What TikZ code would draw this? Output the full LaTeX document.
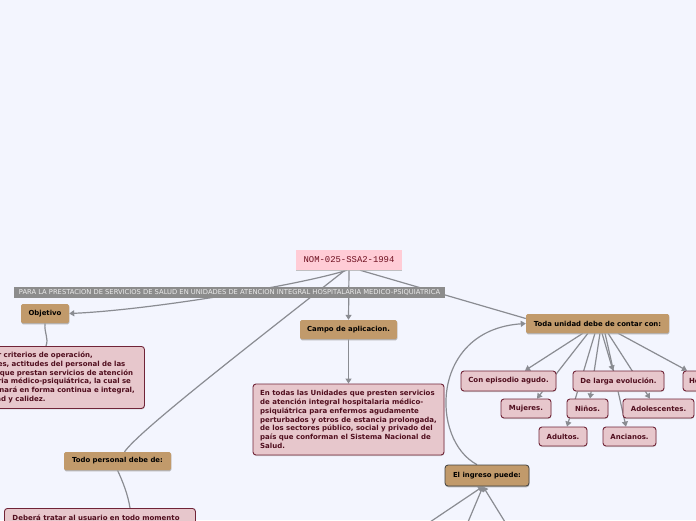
\documentclass[tikz,border=0pt]{standalone}
\usepackage{fontspec}
\setmainfont{DejaVu Sans}
\newfontfamily\monof{Liberation Mono}
\usetikzlibrary{arrows.meta,shadows}
\definecolor{bgc}{RGB}{243,245,254}
\definecolor{tanc}{RGB}{193,154,107}
\definecolor{pinkc}{RGB}{231,199,204}
\definecolor{pinkb}{RGB}{112,36,56}
\definecolor{pinkt}{RGB}{80,14,30}
\definecolor{nomc}{RGB}{255,204,214}
\definecolor{nomt}{RGB}{110,16,32}
\definecolor{bannerc}{RGB}{140,140,140}
\definecolor{linec}{RGB}{138,140,146}
\pgfdeclarelayer{bglayer}
\pgfdeclarelayer{background}
\pgfsetlayers{bglayer,background,main}
\tikzset{
  tanbox/.style={fill=tanc, rounded corners=1.5pt, inner sep=0pt, minimum height=19pt,
    font=\fontsize{6.9}{8}\selectfont\bfseries, text=black,
    drop shadow={shadow xshift=0.4pt, shadow yshift=-1.3pt, fill=black!35, opacity=0.8}},
  pinkbox/.style={fill=pinkc, draw=pinkb, line width=0.9pt, rounded corners=3pt, inner sep=0pt,
    minimum height=19pt, font=\fontsize{7}{8.75}\selectfont\bfseries, text=pinkt,
    drop shadow={shadow xshift=0.4pt, shadow yshift=-1pt, fill=black!25, opacity=0.7}},
  conn/.style={draw=linec, line width=1.2pt},
  arr/.style={conn, -{Triangle[width=6pt,length=5pt]}},
}
\begin{document}
\begin{tikzpicture}[x=1pt,y=-1pt]
\begin{pgfonlayer}{bglayer}
\fill[bgc] (0,0) rectangle (696,520);
\end{pgfonlayer}
\useasboundingbox (0,0) rectangle (696,520);

% main nodes
\node[fill=nomc, inner sep=0pt, minimum width=106pt, minimum height=20pt, text=nomt,
  font=\monof\fontsize{8.9}{10}\selectfont,
  drop shadow={shadow xshift=0.4pt, shadow yshift=-1.3pt, fill=black!30, opacity=0.8}]
  (nom) at (349,260) {NOM-025-SSA2-1994};
\node[fill=bannerc, inner sep=0pt, minimum width=431pt, minimum height=11pt, text=white!92!black,
  font=\fontsize{6.75}{7}\selectfont]
  (banner) at (229.5,292.5) {PARA LA PRESTACION DE SERVICIOS DE SALUD EN UNIDADES DE ATENCION INTEGRAL HOSPITALARIA MEDICO-PSIQUIATRICA};

\node[tanbox, minimum width=48pt] (obj) at (45,313.5) {Objetivo};
\node[pinkbox, minimum height=62pt, anchor=north west, align=left, inner xsep=0pt,
  text width=183pt] (objd) at (-39,346)
  {Uniformar criterios de operación,\\
   actividades, actitudes del personal de las\\
   unidades que prestan servicios de atención\\
   hospitalaria médico-psiquiátrica, la cual se\\
   proporcionará en forma continua e integral,\\
   con calidad y calidez.};

\node[tanbox, minimum width=97pt] (campo) at (348.5,329.5) {Campo de aplicacion.};
\node[pinkbox, minimum width=191pt, minimum height=71pt, align=left, inner xsep=4pt]
  (campod) at (348.5,419.5)
  {En todas las Unidades que presten servicios\\
   de atención integral hospitalaria médico-\\
   psiquiátrica para enfermos agudamente\\
   perturbados y otros de estancia prolongada,\\
   de los sectores público, social y privado del\\
   país que conforman el Sistema Nacional de\\
   Salud.};

\node[tanbox, minimum width=143pt] (toda) at (597.5,323.5) {Toda unidad debe de contar con:};
\node[pinkbox, minimum width=95pt, minimum height=20pt] (agudo) at (508.5,381) {Con episodio agudo.};
\node[pinkbox, minimum width=91pt, minimum height=20pt] (larga) at (618.5,381) {De larga evolución.};
\node[pinkbox, minimum width=50pt, minimum height=20pt] (hombres) at (708,381) {Hombres.};
\node[pinkbox, minimum width=50pt] (mujeres) at (526,408.5) {Mujeres.};
\node[pinkbox, minimum width=41pt] (ninos) at (587.5,408.5) {Niños.};
\node[pinkbox, minimum width=71pt] (adol) at (658.5,408.5) {Adolescentes.};
\node[pinkbox, minimum width=48pt] (adultos) at (563,436.5) {Adultos.};
\node[pinkbox, minimum width=53pt] (ancianos) at (629.5,436.5) {Ancianos.};

\node[tanbox, minimum width=107pt, minimum height=18pt] (todo) at (117.5,461) {Todo personal debe de:};
\node[pinkbox, minimum width=191pt, anchor=north west, align=left, inner xsep=8pt, inner ysep=5pt,
  text width=175pt] (debera) at (4,508)
  {Deberá tratar al usuario en todo momento};

\node[tanbox, draw=black!75, line width=0.8pt, rounded corners=3pt, minimum width=84pt,
  minimum height=21pt] (ingreso) at (487,475.5) {El ingreso puede:};

\coordinate (b1) at (430,522);
\coordinate (b2) at (468,522);
\coordinate (b3) at (505,522);

% connectors
\begin{pgfonlayer}{background}
\draw[arr] ([xshift=-2pt]nom.south) .. controls (300,285) and (150,310) .. (obj.east);
\draw[conn] ([xshift=-4pt]nom.south) .. controls (250,345) and (140,430) .. ([xshift=7pt]todo.north);
\draw[arr] (nom.south) -- (campo.north);
\draw[conn] ([xshift=11pt]nom.south) -- ([yshift=5pt]toda.west);
\draw[conn] (obj.south) .. controls (44,333) and (49,338) .. ([xshift=1pt]obj.south |- objd.north);
\draw[arr] (campo.south) -- (campod.north);
\draw[conn] (todo.south) .. controls (123,482) and (128,495) .. ([xshift=126pt]debera.north west);

\draw[arr] ([xshift=-14.5pt]toda.south) -- ([xshift=16.5pt]agudo.north);
\draw[arr] ([xshift=-9.5pt]toda.south) -- ([xshift=11pt]mujeres.north);
\draw[arr] ([xshift=-2.5pt]toda.south) -- ([xshift=4pt]adultos.north);
\draw[arr] ([xshift=2.5pt]toda.south) -- ([xshift=2.5pt]ninos.north);
\draw[arr] ([xshift=4.5pt]toda.south) -- ([xshift=-5.5pt]larga.north);
\draw[arr] ([xshift=7.5pt]toda.south) -- ([xshift=-3.5pt]ancianos.north);
\draw[arr] ([xshift=10.5pt]toda.south) -- ([xshift=-8.5pt]adol.north);
\draw[arr] ([xshift=20.5pt]toda.south) -- ([xshift=-21pt]hombres.north);

\draw[arr] ([xshift=-10pt]ingreso.north) .. controls (430,440) and (430,330) .. (toda.west);
\draw[arr] (b1) -- ([xshift=-4pt]ingreso.south);
\draw[arr] (b2) -- ([xshift=-4pt]ingreso.south);
\draw[arr] (b3) -- ([xshift=-4pt]ingreso.south);
\end{pgfonlayer}
\end{tikzpicture}
\end{document}
